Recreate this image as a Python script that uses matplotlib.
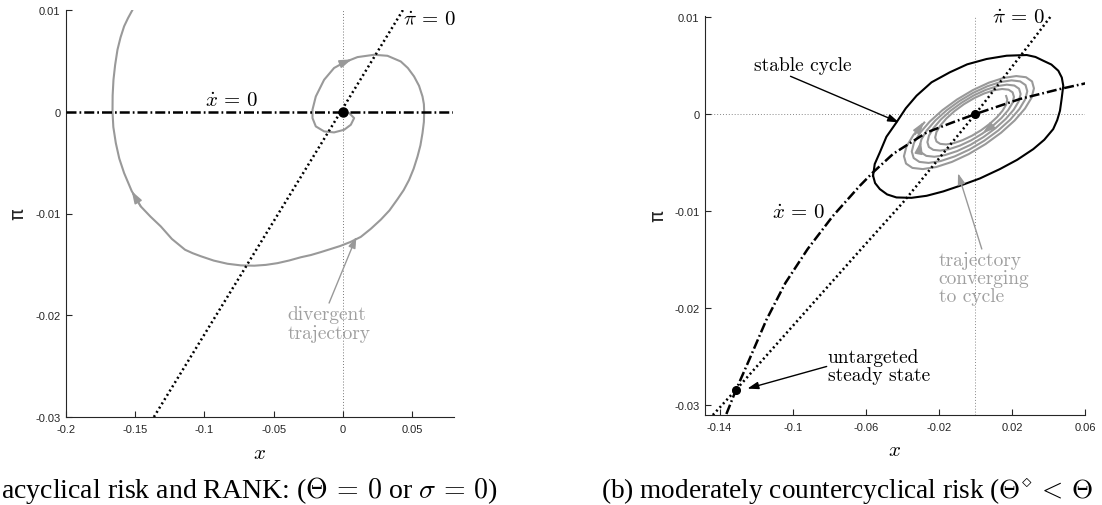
import matplotlib
matplotlib.use('Agg')
import matplotlib.pyplot as plt

plt.rcParams['mathtext.fontset'] = 'cm'
plt.rcParams['font.family'] = ['Liberation Sans', 'DejaVu Sans']

# ---------------- panel (a) data ----------------
a_xlim = (-0.2, 0.08)
a_ylim = (-0.03, 0.01)
a_xticks = [-0.2, -0.15, -0.1, -0.05, 0, 0.05]
a_xticklabels = ['-0.2', '-0.15', '-0.1', '-0.05', '0', '0.05']
a_yticks = [-0.03, -0.02, -0.01, 0, 0.01]
a_yticklabels = ['-0.03', '-0.02', '-0.01', '0', '0.01']

a_xdot_x = [-0.2, 0.08]
a_xdot_pi = [0.0, 0.0]
a_pidot_x = [-0.1365, 0.0435]
a_pidot_pi = [-0.03, 0.01]
a_ss_x = [0.0]
a_ss_pi = [0.0]

a_traj_x = [0.0, 0.0046, 0.0082, 0.0058, 0.0010, -0.0063, -0.0135, -0.0195, -0.0219, -0.0219,
            -0.0195, -0.0135, -0.0063, 0.0010, 0.0106, 0.0226, 0.0323, 0.0419, 0.0470, 0.0515,
            0.0551, 0.0576, 0.0586, 0.0588, 0.0586, 0.0576, 0.0561, 0.0540, 0.0512, 0.0479,
            0.0440, 0.0395, 0.0337, 0.0275, 0.0203, 0.0130, 0.0055, -0.0020, -0.0090, -0.0160,
            -0.0230, -0.0303, -0.0388, -0.0472, -0.0556, -0.0640, -0.0736, -0.0833, -0.0932, -0.1026,
            -0.1085, -0.1140, -0.1235, -0.1315, -0.1390, -0.1460, -0.1525, -0.1580, -0.1615, -0.1640,
            -0.1658, -0.1664, -0.1663, -0.1657, -0.1645, -0.1628, -0.1606, -0.1580, -0.1552, -0.1520]
a_traj_pi = [0.0, -0.00013, -0.00062, -0.00128, -0.00177, -0.00203, -0.00193, -0.00144, -0.00062, 0.0002,
             0.0015, 0.00314, 0.0043, 0.00485, 0.00537, 0.0056, 0.0055, 0.00494, 0.00430, 0.00347,
             0.00255, 0.0015, 0.00075, 0.0, -0.0010, -0.0021, -0.0033, -0.0044, -0.0056, -0.0067,
             -0.0077, -0.0086, -0.0097, -0.0106, -0.0115, -0.0123, -0.0128, -0.0132, -0.0135, -0.0138,
             -0.01408, -0.0143, -0.01462, -0.01488, -0.01505, -0.01513, -0.01510, -0.01494, -0.01463, -0.0142,
             -0.0139, -0.01356, -0.0125, -0.01127, -0.0103, -0.0093, -0.0078, -0.00603, -0.0046, -0.00308,
             -0.0015, 0.0, 0.0016, 0.00314, 0.0046, 0.0061, 0.0073, 0.0084, 0.0092, 0.0100]
a_dir_arrows = [((0.0010, 0.00485), (0.0065, 0.00515)),
                ((-0.1460, -0.0093), (-0.1525, -0.0078))]
a_note_tail = (-0.0099, -0.0188)
a_note_head = (0.0098, -0.0123)

# ---------------- panel (b) data ----------------
b_xlim = (-0.148, 0.06)
b_ylim = (-0.031, 0.0101)
b_xticks = [-0.14, -0.1, -0.06, -0.02, 0.02, 0.06]
b_xticklabels = ['-0.14', '-0.1', '-0.06', '-0.02', '0.02', '0.06']
b_yticks = [-0.03, -0.02, -0.01, 0, 0.01]
b_yticklabels = ['-0.03', '-0.02', '-0.01', '0', '0.01']

b_xdot_x = [-0.1363, -0.131, -0.124, -0.1144, -0.104, -0.0918, -0.078, -0.0633, -0.056, -0.045,
            -0.0267, -0.013, 0.0, 0.0244, 0.0463, 0.0602]
b_xdot_pi = [-0.0309, -0.0284, -0.0254, -0.0212, -0.0174, -0.0139, -0.0105, -0.0074, -0.0060, -0.0041,
             -0.0019, -0.0009, 0.0, 0.00155, 0.00258, 0.00316]
b_pidot_x = [-0.1437, -0.131, -0.0625, -0.0396, 0.0, 0.0317, 0.0414]
b_pidot_pi = [-0.031, -0.0284, -0.0139, -0.0091, 0.0, 0.0077, 0.0101]
b_ss_x = [0.0, -0.131]
b_ss_pi = [0.0, -0.0284]

b_cycle_x = [-0.0560, -0.0551, -0.0523, -0.0487, -0.0432, -0.0381, -0.0322, -0.0240, -0.0140, -0.0045,
             0.0061, 0.0171, 0.0281, 0.0329, 0.0372, 0.0416, 0.0454, 0.0473, 0.0481, 0.0472,
             0.0463, 0.0448, 0.0426, 0.0377, 0.0317, 0.0229, 0.0134, 0.0025, -0.0085, -0.0176,
             -0.0267, -0.0350, -0.0432, -0.0483, -0.0523, -0.0549, -0.0560]
b_cycle_pi = [-0.00636, -0.00515, -0.00395, -0.00234, -0.00086, 0.00059, 0.00189, 0.00327, 0.00430, 0.00512,
              0.00567, 0.00601, 0.00608, 0.00588, 0.00549, 0.00510, 0.00446, 0.00376, 0.00292, 0.00155,
              0.00034, -0.00062, -0.00155, -0.00265, -0.00361, -0.00471, -0.00567, -0.00663, -0.00739, -0.00797,
              -0.00842, -0.00863, -0.00859, -0.00828, -0.00773, -0.00711, -0.00636]

b_traj_x = [0.01682, 0.01746, 0.01682, 0.01491, 0.01187, 0.00788, 0.00320, -0.00189, -0.00701, -0.01183,
            -0.01600, -0.01923, -0.02128, -0.02200, -0.02130, -0.01920, -0.01587, -0.01147, -0.00634, -0.00076,
            0.00484, 0.01011, 0.01465, 0.01816, 0.02037, 0.02111, 0.02031, 0.01797, 0.01428, 0.00944,
            0.00378, -0.00233, -0.00847, -0.01423, -0.01920, -0.02304, -0.02546, -0.02627, -0.02541, -0.02289,
            -0.01890, -0.01366, -0.00754, -0.00095, 0.00568, 0.01189, 0.01722, 0.02134, 0.02391, 0.02476,
            0.02378, 0.02102, 0.01668, 0.01100, 0.00438, -0.00276, -0.00994, -0.01663, -0.02241, -0.02685,
            -0.02963, -0.03055, -0.02952, -0.02657, -0.02192, -0.01585, -0.00877, -0.00114, 0.00652, 0.01366,
            0.01980, 0.02452, 0.02745, 0.02841, 0.02727, 0.02407, 0.01909, 0.01256, 0.00497, -0.00320,
            -0.01138, -0.01904, -0.02561, -0.03065, -0.03379, -0.03482, -0.03363, -0.03025, -0.02495, -0.01803,
            -0.00999, -0.00133, 0.00734, 0.01544, 0.02237, 0.02770, 0.03101, 0.03206, 0.03076, 0.02713,
            0.02148, 0.01412, 0.00555, -0.00364, -0.01284, -0.02144, -0.02880, -0.03446, -0.03797, -0.03910,
            -0.03774, -0.03393, -0.02798]
b_traj_pi = [0.001857, 0.001476, 0.000964, 0.000354, -0.000316, -0.001004, -0.00166, -0.002235, -0.00269, -0.002997,
             -0.00313, -0.003071, -0.00283, -0.002413, -0.00185, -0.001187, -0.000454, 0.000295, 0.001007, 0.001632,
             0.002124, 0.002450, 0.002581, 0.002510, 0.002234, 0.001768, 0.001144, 0.000406, -0.000405, -0.001232,
             -0.002017, -0.002707, -0.003251, -0.003612, -0.003763, -0.00369, -0.003395, -0.002896, -0.002227, -0.001431,
             -0.00056, 0.000331, 0.001172, 0.001913, 0.002491, 0.002873, 0.003027, 0.002937, 0.002608, 0.002059,
             0.001326, 0.000458, -0.000491, -0.001459, -0.002375, -0.003179, -0.003811, -0.004227, -0.004399, -0.004309,
             -0.003962, -0.003379, -0.002598, -0.001674, -0.000663, 0.000367, 0.00134, 0.002193, 0.002859, 0.003296,
             0.003471, 0.003365, 0.002986, 0.002351, 0.001509, 0.000511, -0.000577, -0.001686, -0.002732, -0.003650,
             -0.004368, -0.004842, -0.005034, -0.004929, -0.004529, -0.003862, -0.002973, -0.001918, -0.00077, 0.000402,
             0.001505, 0.002473, 0.003227, 0.00372, 0.003914, 0.003793, 0.003361, 0.002643, 0.001687, 0.000563,
             -0.000663, -0.001913, -0.003093, -0.004122, -0.004928, -0.005456, -0.00567, -0.005548, -0.0051, -0.004345,
             -0.003344, -0.002162, -0.000873]
b_dir_arrows = [((-0.0330, -0.0021), (-0.0282, -0.0008)),
                ((-0.0306, -0.0036), (-0.0298, -0.0028)),
                ((0.0080, -0.00137), (0.0040, -0.00199))]
b_cycle_note_tail = (-0.1012, 0.00389)
b_cycle_note_head = (-0.0418, -0.00086)
b_uss_note_tail = (-0.0814, -0.0260)
b_uss_note_head = (-0.1248, -0.02828)
b_traj_note_tail = (0.0035, -0.0139)
b_traj_note_head = (-0.0095, -0.0061)

# ---------------- styles ----------------
AX_COL = '#262626'
GRAY = '#999999'
TXT_GRAY = '#a0a0a0'
DOT_LS = (0, (0.8, 1.2))
DASHDOT_LS = (0, (4.0, 1.2, 0.7, 1.2))
CM = 'cmr10'

fig = plt.figure(figsize=(11.02, 5.06), dpi=100)
axA = fig.add_axes([66 / 1102, 88 / 506, 387.5 / 1102, 407 / 506])
axB = fig.add_axes([705 / 1102, 90 / 506, 380 / 1102, 399 / 506])


def style(ax, xlim, ylim, xt, xtl, yt, ytl):
    ax.set_xlim(xlim)
    ax.set_ylim(ylim)
    for s in ['top', 'right']:
        ax.spines[s].set_visible(False)
    for s in ['left', 'bottom']:
        ax.spines[s].set_color(AX_COL)
        ax.spines[s].set_linewidth(0.8)
    ax.set_xticks(xt)
    ax.set_xticklabels(xtl)
    ax.set_yticks(yt)
    ax.set_yticklabels(ytl)
    ax.tick_params(direction='in', length=4, width=0.8, colors=AX_COL, labelsize=8)
    ax.tick_params(axis='x', pad=5)
    ax.tick_params(axis='y', pad=4)
    ax.set_xlabel('$x$', fontsize=15)
    ax.xaxis.set_label_coords(0.5, -0.086)
    ax.xaxis.label.set_va('center')
    ax.set_ylabel('π', fontsize=14, color=AX_COL, family=['DejaVu Sans'])
    ax.yaxis.set_label_coords(-0.125, 0.5)
    ax.yaxis.label.set_va('center')


def arrow(ax, tail, head, color, lw, ms, z=5):
    ax.annotate('', xy=head, xytext=tail,
                arrowprops=dict(arrowstyle='-|>,head_length=0.6,head_width=0.2',
                                color=color, lw=lw, shrinkA=0, shrinkB=0,
                                mutation_scale=ms), zorder=z)


# ---------------- panel (a) ----------------
style(axA, a_xlim, a_ylim, a_xticks, a_xticklabels, a_yticks, a_yticklabels)
axA.axvline(0, color='#777777', lw=0.7, ls=(0, (1, 2)), zorder=1)
axA.plot(a_traj_x, a_traj_pi, color=GRAY, lw=1.5, zorder=2)
for tail, head in a_dir_arrows:
    arrow(axA, tail, head, GRAY, 1.2, 12, z=2)
axA.plot(a_xdot_x, a_xdot_pi, color='black', lw=1.8, ls=DASHDOT_LS, zorder=3)
axA.plot(a_pidot_x, a_pidot_pi, color='black', lw=1.8, ls=DOT_LS, zorder=3)
axA.plot(a_ss_x, a_ss_pi, 'o', color='black', ms=6.5, zorder=6)
arrow(axA, a_note_tail, a_note_head, GRAY, 1.0, 11)
axA.text(-0.0997, 0.0012, r'$\dot{x}\,=\,0$', fontsize=15, va='center', ha='left')
axA.text(0.0434, 0.0091, r'$\dot{\pi}\,=\,0$', fontsize=15, va='center', ha='left')
axA.text(-0.0397, -0.0208, 'divergent\ntrajectory', family=CM, fontsize=14,
         color=TXT_GRAY, va='center', ha='left', linespacing=1.08)

# ---------------- panel (b) ----------------
style(axB, b_xlim, b_ylim, b_xticks, b_xticklabels, b_yticks, b_yticklabels)
axB.axvline(0, color='#888888', lw=0.7, ls=(0, (1, 2)), zorder=1)
axB.axhline(0, color='#888888', lw=0.7, ls=(0, (1, 2)), zorder=1)
axB.plot(b_traj_x, b_traj_pi, color=GRAY, lw=1.5, zorder=2)
for tail, head in b_dir_arrows:
    arrow(axB, tail, head, GRAY, 1.2, 12, z=2)
axB.plot(b_cycle_x, b_cycle_pi, color='black', lw=1.5, zorder=3)
axB.plot(b_xdot_x, b_xdot_pi, color='black', lw=1.8, ls=DASHDOT_LS, zorder=4)
axB.plot(b_pidot_x, b_pidot_pi, color='black', lw=1.8, ls=DOT_LS, zorder=4)
axB.plot(b_ss_x, b_ss_pi, 'o', color='black', ms=5.5, zorder=6)
arrow(axB, b_cycle_note_tail, b_cycle_note_head, 'black', 1.0, 11)
arrow(axB, b_uss_note_tail, b_uss_note_head, 'black', 1.0, 11)
arrow(axB, b_traj_note_tail, b_traj_note_head, GRAY, 1.0, 11)
axB.text(-0.121, 0.0050, 'stable cycle', family=CM, fontsize=14, va='center', ha='left')
axB.text(-0.0808, -0.0260, 'untargeted\nsteady state', family=CM, fontsize=14,
         va='center', ha='left', linespacing=1.0)
axB.text(-0.0200, -0.0169, 'trajectory\nconverging\nto cycle', family=CM, fontsize=14,
         color=TXT_GRAY, va='center', ha='left', linespacing=0.98)
axB.text(-0.1116, -0.0100, r'$\dot{x}\,=\,0$', fontsize=15, va='center', ha='left')
axB.text(0.0092, 0.00995, r'$\dot{\pi}\,=\,0$', fontsize=15, va='center', ha='left')

# ---------------- captions ----------------
capA = fig.text(1 / 1102, 8 / 506, r'acyclical risk and RANK: ($\Theta\,=\,0$ or $\sigma\,=\,0$)',
                family=['Liberation Serif', 'DejaVu Serif'], fontsize=18, va='baseline', ha='left')
capB = fig.text(601 / 1102, 8 / 506, r'(b) moderately countercyclical risk ($\Theta^{\diamond}\,<\,\Theta$',
                family=['Liberation Serif', 'DejaVu Serif'], fontsize=18, va='baseline', ha='left')
renderer = fig.canvas.get_renderer()
for t, target in ((capA, 497.0), (capB, 493.0)):
    for _ in range(3):
        w = t.get_window_extent(renderer).width
        t.set_fontsize(t.get_fontsize() * target / w)

fig.savefig('out.png', dpi=100, facecolor='white')
